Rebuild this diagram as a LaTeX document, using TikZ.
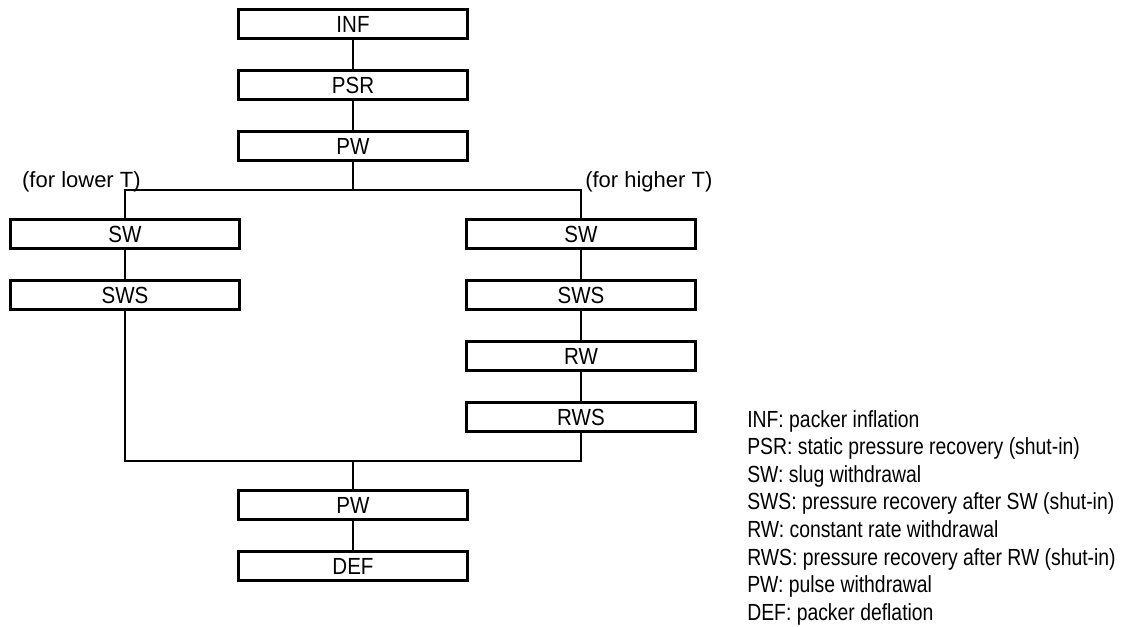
\documentclass[tikz,border=0pt]{standalone}
\usepackage{fontspec}
\setmainfont{Liberation Sans}
\newfontfamily\boxfont[FakeStretch=0.88]{Liberation Sans}
\newfontfamily\keyfont[FakeStretch=0.83]{Liberation Sans}
\usetikzlibrary{positioning}
\tikzset{
  stage/.style={
    draw=black,
    line width=2.25pt,
    minimum width=171.75pt,
    minimum height=21.75pt,
    inner sep=0pt,
    font=\boxfont\fontsize{17.5}{20}\selectfont
  },
  link/.style={line width=1.2pt, draw=black},
  tag/.style={inner sep=0pt, font=\fontsize{16.5}{19}\selectfont},
  legend/.style={inner sep=0pt, align=left, font=\keyfont\fontsize{17.5}{20.7}\selectfont}
}

\begin{document}
\begin{tikzpicture}[node distance=21.75pt]

\useasboundingbox (0,0) rectangle (847.5pt,-469.5pt);

\node[stage] (inf) at (264.75pt,-18pt) {INF};
\node[stage, below=of inf] (psr) {PSR};
\node[stage, below=of psr] (pw) {PW};

% lower T branch
\node[stage, below=42pt of pw, xshift=-171pt] (lsw) {SW};
\node[stage, below=of lsw] (lsws) {SWS};

% higher T branch
\node[stage, below=42pt of pw, xshift=171pt] (rsw) {SW};
\node[stage, below=of rsw] (rsws) {SWS};
\node[stage, below=of rsws] (rw) {RW};
\node[stage, below=of rw] (rws) {RWS};

\node[stage, below=42pt of rws, xshift=-171pt] (pwend) {PW};
\node[stage, below=of pwend] (def) {DEF};

\path (pw.south) -- coordinate (split) (lsw.north);
\path (rws.south) -- coordinate (join) (pwend.north);

\draw[link] (inf) -- (psr);
\draw[link] (psr) -- (pw);
\draw[link] (pw) -- (pw |- split);
\draw[link] (lsw.north) |- (pw |- split) -| (rsw.north);
\draw[link] (lsw) -- (lsws);
\draw[link] (rsw) -- (rsws);
\draw[link] (rsws) -- (rw);
\draw[link] (rw) -- (rws);
\draw[link] (lsws.south) |- (pwend |- join) -| (rws.south);
\draw[link] (pwend |- join) -- (pwend);
\draw[link] (pwend) -- (def);

\node[tag, anchor=base east, xshift=12pt, yshift=2.25pt] (lowtag)
  at (lsw |- split) {(for lower T)};
\node[tag, anchor=base west, xshift=3pt, yshift=2.25pt] (hightag)
  at (rsw |- split) {(for higher T)};

\node[legend, anchor=north west] (key) at (560.25pt,-307.4pt) {
  INF: packer inflation\\
  PSR: static pressure recovery (shut-in)\\
  SW: slug withdrawal\\
  SWS: pressure recovery after SW (shut-in)\\
  RW: constant rate withdrawal\\
  RWS: pressure recovery after RW (shut-in)\\
  PW: pulse withdrawal\\
  DEF: packer deflation
};

\end{tikzpicture}
\end{document}
